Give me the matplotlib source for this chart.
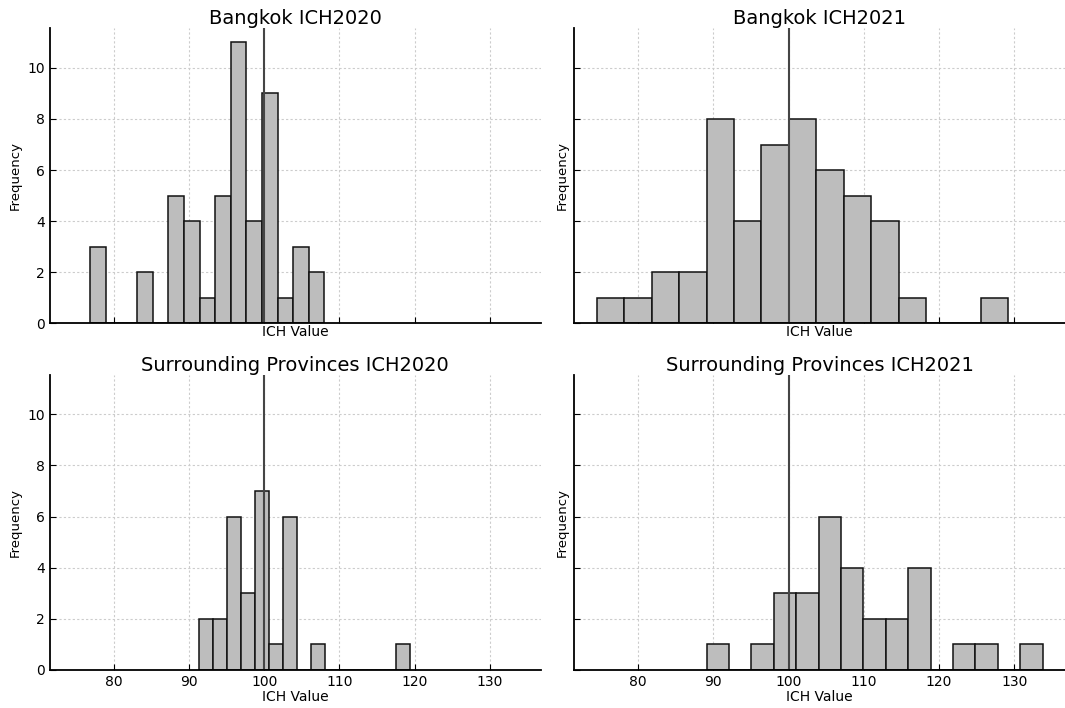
import numpy as np
import matplotlib
matplotlib.use('Agg')
import matplotlib.pyplot as plt

# histogram counts (15 bins each), with bin range
titles = ['Bangkok ICH2020', 'Bangkok ICH2021',
          'Surrounding Provinces ICH2020', 'Surrounding Provinces ICH2021']

bkk2020_range = (76.9, 108.0)
bkk2020_counts = [3, 0, 0, 2, 0, 5, 4, 1, 5, 11, 4, 9, 1, 3, 2]

bkk2021_range = (74.5, 129.2)
bkk2021_counts = [1, 1, 2, 2, 8, 4, 7, 8, 6, 5, 4, 1, 0, 0, 1]

sur2020_range = (91.36, 119.32)
sur2020_counts = [2, 2, 6, 3, 7, 1, 6, 0, 1, 0, 0, 0, 0, 0, 1]

sur2021_range = (89.09, 133.77)
sur2021_counts = [1, 0, 1, 3, 3, 6, 4, 2, 2, 4, 0, 1, 1, 0, 1]

ref_value = 100

panels = [(bkk2020_range, bkk2020_counts), (bkk2021_range, bkk2021_counts),
          (sur2020_range, sur2020_counts), (sur2021_range, sur2021_counts)]

plt.rcParams['font.family'] = 'DejaVu Sans'

fig, axes = plt.subplots(2, 2, figsize=(10.65, 7.08), dpi=100, sharex=True, sharey=True)
fig.subplots_adjust(left=0.047, right=1.0, top=0.96, bottom=0.054, wspace=0.069, hspace=0.175)

for ax, title, (rng, counts) in zip(axes.flat, titles, panels):
    edges = np.linspace(rng[0], rng[1], len(counts) + 1)
    centers = (edges[:-1] + edges[1:]) / 2
    ax.hist(centers, bins=edges, weights=counts, color='#bdbdbd',
            edgecolor='#111111', linewidth=1.1)
    ax.axvline(ref_value, color='#454545', linewidth=1.5)
    ax.set_title(title, fontsize=14, pad=3)
    ax.set_xlabel('ICH Value', fontsize=10, labelpad=1)
    ax.set_ylabel('Frequency', fontsize=9.5, labelpad=4)
    ax.grid(True, color='#cccccc', linestyle=(0, (2, 2)), linewidth=0.8)
    ax.set_axisbelow(True)
    ax.spines['top'].set_visible(False)
    ax.spines['right'].set_visible(False)
    ax.spines['left'].set_linewidth(1.3)
    ax.spines['bottom'].set_linewidth(1.3)
    ax.tick_params(direction='in', length=4, labelsize=10)

axes[0, 0].set_yticks([0, 2, 4, 6, 8, 10])
axes[0, 0].set_xticks([80, 90, 100, 110, 120, 130])

plt.savefig('out.png', dpi=100)
